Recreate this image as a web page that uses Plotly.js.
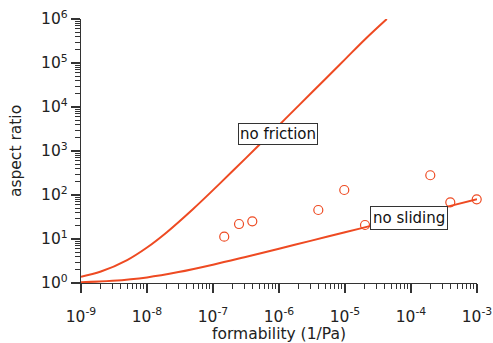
<!DOCTYPE html>
<html>
<head>
<meta charset="utf-8">
<script src="https://cdn.plot.ly/plotly-3.0.1.min.js"></script>
<style>
  html, body { margin: 0; padding: 0; background: #fff; }
  #chart { width: 493px; height: 343px; }
</style>
</head>
<body>
<div id="chart"></div>
<script>
// "no friction" model curve
var frictionX = [1e-9, 2e-9, 5e-9, 1e-8, 2e-8, 5e-8, 1e-7, 2e-7, 5e-7, 1e-6, 2e-6, 5e-6, 1e-5, 2e-5, 4.3e-5];
var frictionY = [1.39, 1.82, 3.32, 6.41, 14.3, 48.2, 129, 354, 1370, 3860, 10900, 42900, 121000, 343000, 1.0e6];

// "no sliding" model curve
var slidingX = [1e-9, 3e-9, 1e-8, 3e-8, 1e-7, 3e-7, 1e-6, 3e-6, 1e-5, 3e-5, 1e-4, 3e-4, 1e-3];
var slidingY = [1.04, 1.12, 1.34, 1.77, 2.61, 3.86, 6.02, 9.07, 14.2, 21.5, 33.8, 50.9, 80.0];

// measured points
var measuredX = [1.48e-7, 2.48e-7, 3.94e-7, 3.94e-6, 9.75e-6, 2.01e-5, 1.96e-4, 3.94e-4, 9.9e-4];
var measuredY = [11.3, 21.9, 25.2, 45.6, 130, 20.8, 281, 68.2, 79.8];

// tick labels
var xTickVals = [1e-9, 1e-8, 1e-7, 1e-6, 1e-5, 1e-4, 1e-3];
var xTickText = ['10<sup>-9</sup>', '10<sup>-8</sup>', '10<sup>-7</sup>', '10<sup>-6</sup>', '10<sup>-5</sup>', '10<sup>-4</sup>', '10<sup>-3</sup>'];
var yTickVals = [1, 10, 100, 1000, 10000, 100000, 1000000];
var yTickText = ['10<sup>0</sup>', '10<sup>1</sup>', '10<sup>2</sup>', '10<sup>3</sup>', '10<sup>4</sup>', '10<sup>5</sup>', '10<sup>6</sup>'];

function minorVals(majors) {
  var out = [];
  for (var i = 0; i < majors.length - 1; i++) {
    for (var k = 2; k <= 9; k++) out.push(majors[i] * k);
  }
  return out;
}

var lineColor = '#ee4a22';
var font = 'DejaVu Sans, sans-serif';

var traces = [
  { x: frictionX, y: frictionY, type: 'scatter', mode: 'lines',
    line: { color: lineColor, width: 2, shape: 'spline' }, hoverinfo: 'none' },
  { x: slidingX, y: slidingY, type: 'scatter', mode: 'lines',
    line: { color: lineColor, width: 2, shape: 'spline' }, hoverinfo: 'none' },
  { x: measuredX, y: measuredY, type: 'scatter', mode: 'markers',
    marker: { symbol: 'circle-open', size: 9, color: lineColor, line: { width: 1.2 } },
    cliponaxis: false, hoverinfo: 'none' }
];

var axisCommon = {
  type: 'log', showgrid: false, zeroline: false, showline: true,
  linecolor: '#333', linewidth: 1.2, mirror: false,
  ticks: 'outside', ticklen: 9, tickwidth: 1.2, tickcolor: '#333',
  tickmode: 'array', tickfont: { family: font, size: 15.5, color: '#222' },
  automargin: false
};

var layout = {
  width: 493, height: 343,
  margin: { l: 81, r: 16, t: 19, b: 60 },
  paper_bgcolor: '#fff', plot_bgcolor: '#fff',
  showlegend: false,
  font: { family: font, color: '#222' },
  xaxis: Object.assign({}, axisCommon, {
    range: [-9, -3],
    tickvals: xTickVals, ticktext: xTickText,
    ticklabelstandoff: 10,
    minor: { tickmode: 'array', tickvals: minorVals(xTickVals), ticks: 'outside', ticklen: 5, tickwidth: 1, tickcolor: '#333', showgrid: false },
    title: { text: 'formability (1/Pa)', font: { family: font, size: 15.5, color: '#222' }, standoff: 14 }
  }),
  yaxis: Object.assign({}, axisCommon, {
    range: [0, 6],
    tickvals: yTickVals, ticktext: yTickText,
    minor: { tickmode: 'array', tickvals: minorVals(yTickVals), ticks: 'outside', ticklen: 5, tickwidth: 1, tickcolor: '#333', showgrid: false },
    title: { text: 'aspect ratio', font: { family: font, size: 15.5, color: '#222' }, standoff: 15 }
  }),
  annotations: [
    { text: 'no friction', xref: 'paper', yref: 'paper', x: 0.4975, y: 0.564,
      xanchor: 'center', yanchor: 'middle', showarrow: false,
      font: { family: font, size: 15, color: '#111' },
      bgcolor: '#fff', bordercolor: '#333', borderwidth: 1, borderpad: 1 },
    { text: 'no sliding', xref: 'paper', yref: 'paper', x: 0.828, y: 0.248,
      xanchor: 'center', yanchor: 'middle', showarrow: false,
      font: { family: font, size: 15, color: '#111' },
      bgcolor: '#fff', bordercolor: '#333', borderwidth: 1, borderpad: 2 }
  ]
};

Plotly.newPlot('chart', traces, layout, { staticPlot: true, displayModeBar: false });
</script>
</body>
</html>
